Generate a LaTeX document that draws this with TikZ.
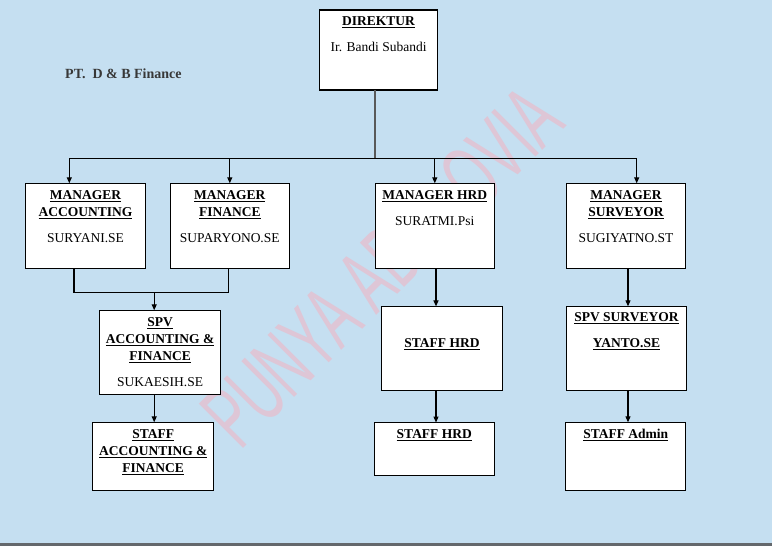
\documentclass[tikz,border=0pt]{standalone}
\usepackage{fontspec}
\setmainfont{Liberation Serif}
\newfontfamily\wmfont{Liberation Sans}
\usetikzlibrary{arrows.meta, positioning}
\definecolor{bgblue}{RGB}{197,223,241}
\definecolor{wmark}{RGB}{222,198,214}
\definecolor{bargray}{RGB}{100,104,108}
\newcommand{\hd}[1]{\underline{\textbf{#1}}}

\begin{document}
\begin{tikzpicture}[x=1pt, y=-1pt,
  box/.style={draw=black, fill=white, line width=1.1pt, inner sep=0pt, outer sep=0pt},
  txt/.style={align=center, inner sep=0pt, font=\fontsize{13.5}{17}\selectfont},
  title/.style={anchor=base west, inner sep=0pt, text=black!78, font=\fontsize{14}{17}\selectfont\bfseries},
  conn/.style={line width=1.1pt},
  arr/.style={line width=1.1pt, -{Triangle[length=6pt,width=5pt]}},
  trunk/.style={line width=1.8pt, draw=black!65},
  wm/.style={inner sep=0pt, rotate=45, text=wmark, font=\wmfont\fontsize{91}{91}\selectfont},
]
\useasboundingbox (0,0) rectangle (772,546);
\fill[bgblue] (0,0) rectangle (772,543);
\fill[bargray] (0,543) rectangle (772,546);

% ---------------------------------------------------------------- watermark
\node[wm, anchor=base west] (wm1) at (240,452) {\scalebox{0.58}[1]{PUNYA AD}};
\node[wm, anchor=base east] (wm2) at (568,125) {\scalebox{0.58}[1]{OVIA}};

\node[title] (pt) at (65,78) {PT.\ \ D \& B Finance};

% ---------------------------------------------------------------- direktur
\node[box, minimum width=118pt, minimum height=80pt] (dir) at (378.5,50) {};
\node[txt, below=6.5pt of dir.north] (dirt) {\hd{DIREKTUR}\\[9pt]Ir. Bandi Subandi};

% ---------------------------------------------------------------- managers
\node[box, minimum width=120pt, minimum height=85pt] (macc) at (85.5,225.8) {};
\node[txt, below=7pt of macc.north] (macct) {\hd{MANAGER}\\\hd{ACCOUNTING}\\[9pt]SURYANI.SE};
\node[box, minimum width=119pt, minimum height=85pt] (mfin) at (229.8,225.8) {};
\node[txt, below=7pt of mfin.north] (mfint) {\hd{MANAGER}\\\hd{FINANCE}\\[9pt]SUPARYONO.SE};
\node[box, minimum width=119pt, minimum height=85pt] (mhrd) at (434.8,225.8) {};
\node[txt, below=7pt of mhrd.north] (mhrdt) {\hd{MANAGER HRD}\\[9pt]SURATMI.Psi};
\node[box, minimum width=119pt, minimum height=85pt] (msur) at (626,225.8) {};
\node[txt, below=7pt of msur.north] (msurt) {\hd{MANAGER}\\\hd{SURVEYOR}\\[9pt]SUGIYATNO.ST};

% ---------------------------------------------------------------- spv / staff
\node[box, minimum width=121pt, minimum height=84pt] (spv) at (160.1,352.3) {};
\node[txt, below=7pt of spv.north] (spvt) {\hd{SPV}\\\hd{ACCOUNTING \&}\\\hd{FINANCE}\\[9pt]SUKAESIH.SE};
\node[box, minimum width=121pt, minimum height=68pt] (sacc) at (153.2,456.3) {};
\node[txt, below=7pt of sacc.north] (sacct) {\hd{STAFF}\\\hd{ACCOUNTING \&}\\\hd{FINANCE}};

\node[box, minimum width=121pt, minimum height=84pt] (shrd) at (442,348.4) {};
\node[txt, below=32pt of shrd.north] (shrdt) {\hd{STAFF HRD}};
\node[box, minimum width=120pt, minimum height=53pt] (shrdb) at (434.3,449) {};
\node[txt, below=7pt of shrdb.north] (shrdbt) {\hd{STAFF HRD}};

\node[box, minimum width=120pt, minimum height=84pt] (spvs) at (626.5,348.3) {};
\node[txt, below=6pt of spvs.north] (spvst) {\hd{SPV SURVEYOR}\\[9pt]\hd{YANTO.SE}};
\node[box, minimum width=120pt, minimum height=68pt] (sadm) at (625.8,456.3) {};
\node[txt, below=7pt of sadm.north] (sadmt) {\hd{STAFF Admin}};

% ---------------------------------------------------------------- lines
\coordinate (busL) at (69.3,158.3);
\coordinate (busR) at (636.7,158.3);
\draw[trunk] ([xshift=-3.5pt]dir.south) -- ([xshift=-3.5pt]dir.south |- busL);
\draw[conn] (busL) -- (busR);
\draw[arr] (busL) -- (busL |- macc.north);
\draw[arr] (mfin.north |- busL) -- (mfin.north);
\draw[arr] (mhrd.north |- busL) -- (mhrd.north);
\draw[arr] (busR) -- (busR |- msur.north);

\coordinate (joinL) at (74,292.3);
\coordinate (joinR) at (228.3,292.3);
\coordinate (joinM) at (154.2,292.3);
\draw[conn] (joinL |- macc.south) -- (joinL) -- (joinR) -- (joinR |- mfin.south);
\draw[arr] (joinM) -- (joinM |- spv.north);
\draw[arr] (joinM |- spv.south) -- (joinM |- sacc.north);

\coordinate (hrdx) at (436,0);
\draw[arr] (hrdx |- mhrd.south) -- (hrdx |- shrd.north);
\draw[arr] (hrdx |- shrd.south) -- (hrdx |- shrdb.north);

\coordinate (surx) at (628,0);
\draw[arr] (surx |- msur.south) -- (surx |- spvs.north);
\draw[arr] (surx |- spvs.south) -- (surx |- sadm.north);
\end{tikzpicture}
\end{document}
